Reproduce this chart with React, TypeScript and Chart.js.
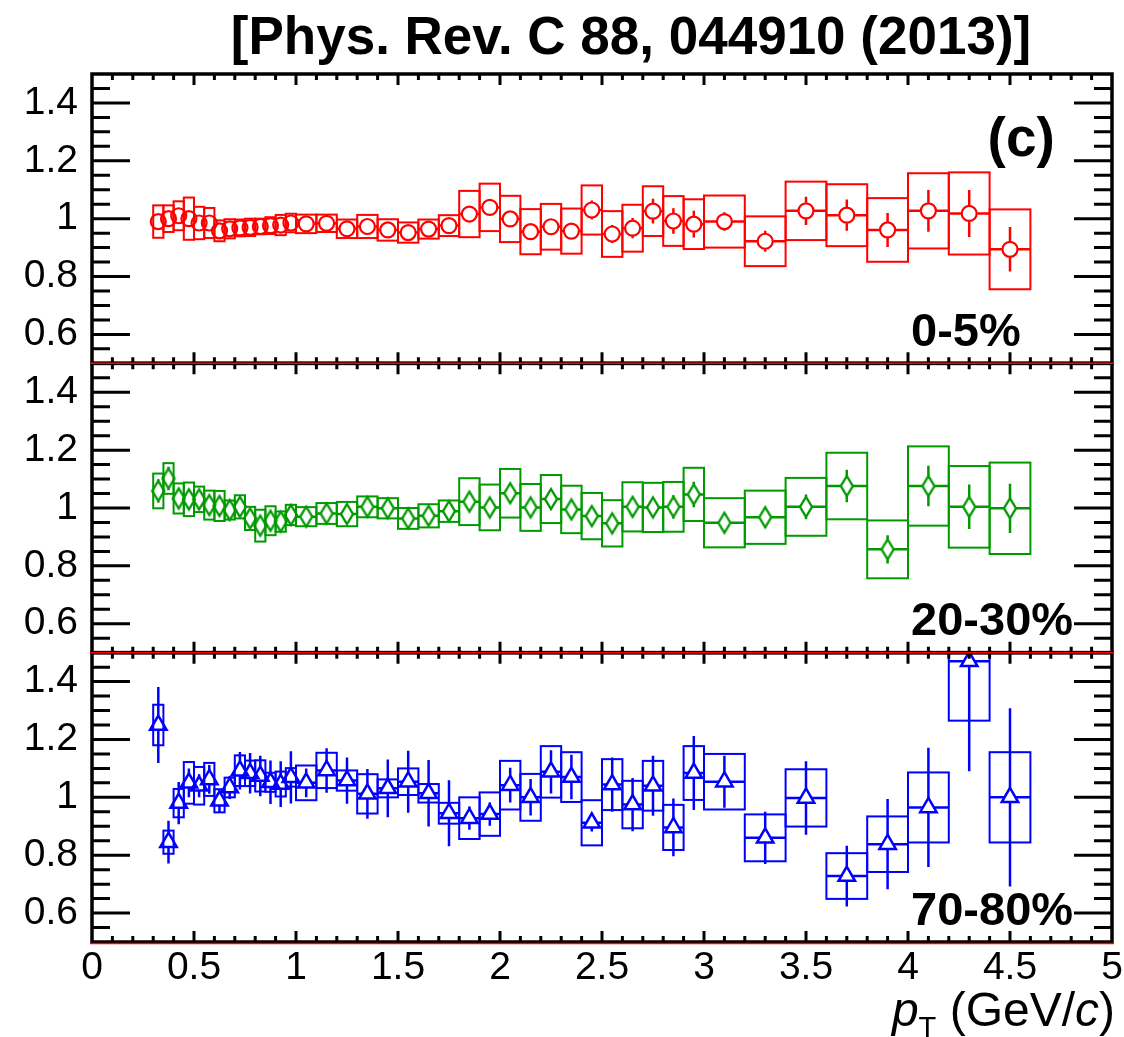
import { useEffect, useRef } from "react";
import { Chart, registerables } from "chart.js";

Chart.register(...registerables);

// pT bin centres and half widths (GeV/c)
const binCenters = [
  0.325, 0.375, 0.425, 0.475, 0.525, 0.575, 0.625, 0.675, 0.725, 0.775, 0.825, 0.875, 0.925, 0.975,
  1.05, 1.15, 1.25, 1.35, 1.45, 1.55, 1.65, 1.75, 1.85, 1.95, 2.05, 2.15, 2.25, 2.35, 2.45, 2.55,
  2.65, 2.75, 2.85, 2.95,
  3.1, 3.3, 3.5, 3.7, 3.9, 4.1, 4.3, 4.5,
];
const binHalfWidths = [
  0.025, 0.025, 0.025, 0.025, 0.025, 0.025, 0.025, 0.025, 0.025, 0.025, 0.025, 0.025, 0.025, 0.025,
  0.05, 0.05, 0.05, 0.05, 0.05, 0.05, 0.05, 0.05, 0.05, 0.05, 0.05, 0.05, 0.05, 0.05, 0.05, 0.05,
  0.05, 0.05, 0.05, 0.05,
  0.1, 0.1, 0.1, 0.1, 0.1, 0.1, 0.1, 0.1,
];

// 0-5% centrality
const ratio0to5 = [
  0.99, 1.0, 1.01, 1.0, 0.985, 0.985, 0.958, 0.965, 0.968, 0.97, 0.973, 0.976, 0.978, 0.985,
  0.982, 0.984, 0.965, 0.973, 0.961, 0.952, 0.964, 0.976, 1.016, 1.039, 0.999, 0.955, 0.972, 0.957,
  1.03, 0.947, 0.967, 1.026, 0.992, 0.981,
  0.99, 0.922, 1.027, 1.012, 0.961, 1.027, 1.018, 0.894,
];
const stat0to5 = [
  0.01, 0.01, 0.01, 0.01, 0.01, 0.01, 0.008, 0.008, 0.008, 0.008, 0.008, 0.008, 0.008, 0.008,
  0.008, 0.008, 0.008, 0.009, 0.009, 0.01, 0.01, 0.011, 0.012, 0.013, 0.014, 0.015, 0.016, 0.017,
  0.033, 0.031, 0.035, 0.043, 0.044, 0.046,
  0.032, 0.036, 0.049, 0.054, 0.059, 0.072, 0.081, 0.077,
];
const sys0to5 = [
  0.056, 0.046, 0.05, 0.073, 0.056, 0.052, 0.036, 0.033, 0.029, 0.03, 0.027, 0.029, 0.035, 0.032,
  0.032, 0.03, 0.032, 0.04, 0.037, 0.035, 0.033, 0.036, 0.08, 0.082, 0.08, 0.078, 0.079, 0.078,
  0.085, 0.079, 0.081, 0.086, 0.086, 0.086,
  0.09, 0.086, 0.101, 0.107, 0.11, 0.13, 0.142, 0.138,
];

// 20-30% centrality
const ratio20to30 = [
  1.059, 1.102, 1.033, 1.03, 1.03, 1.01, 1.007, 0.993, 1.004, 0.964, 0.939, 0.956, 0.953, 0.976,
  0.97, 0.981, 0.979, 1.004, 0.999, 0.964, 0.973, 0.989, 1.022, 1.002, 1.051, 1.002, 1.031, 0.995,
  0.972, 0.947, 1.004, 1.002, 1.004, 1.047,
  0.949, 0.968, 1.004, 1.076, 0.857, 1.076, 1.004, 0.999,
];
const stat20to30 = [
  0.04, 0.04, 0.025, 0.025, 0.025, 0.02, 0.02, 0.02, 0.02, 0.02, 0.02, 0.02, 0.02, 0.02,
  0.015, 0.015, 0.015, 0.015, 0.015, 0.016, 0.017, 0.018, 0.02, 0.022, 0.034, 0.024, 0.034, 0.026,
  0.028, 0.03, 0.035, 0.036, 0.04, 0.044,
  0.03, 0.036, 0.043, 0.056, 0.049, 0.07, 0.077, 0.085,
];
const sys20to30 = [
  0.06, 0.053, 0.052, 0.058, 0.044, 0.05, 0.052, 0.033, 0.04, 0.04, 0.055, 0.05, 0.035, 0.035,
  0.033, 0.036, 0.042, 0.036, 0.035, 0.036, 0.04, 0.037, 0.081, 0.079, 0.084, 0.081, 0.083, 0.082,
  0.08, 0.08, 0.085, 0.085, 0.086, 0.092,
  0.085, 0.092, 0.1, 0.115, 0.1, 0.137, 0.141, 0.158,
];

// 70-80% centrality
const ratio70to80 = [
  1.25, 0.845, 0.98, 1.05, 1.04, 1.062, 0.988, 1.034, 1.092, 1.083, 1.074, 1.052, 1.046, 1.069,
  1.05, 1.093, 1.058, 1.012, 1.031, 1.054, 1.014, 0.945, 0.928, 0.942, 1.042, 1.0, 1.088, 1.07,
  0.912, 1.044, 0.975, 1.04, 0.896, 1.084,
  1.054, 0.86, 0.998, 0.728, 0.838, 0.965, 1.47, 1.0,
];
const stat70to80 = [
  0.131, 0.074, 0.073, 0.05, 0.04, 0.05, 0.04, 0.04, 0.065, 0.07, 0.07, 0.075, 0.079, 0.09,
  0.05, 0.077, 0.08, 0.086, 0.1, 0.107, 0.115, 0.114, 0.04, 0.04, 0.06, 0.063, 0.075, 0.077,
  0.03, 0.094, 0.092, 0.104, 0.1, 0.128,
  0.09, 0.09, 0.127, 0.105, 0.156, 0.206, 0.38, 0.308,
];
const sys70to80 = [
  0.07, 0.04, 0.049, 0.072, 0.065, 0.057, 0.04, 0.034, 0.053, 0.044, 0.054, 0.033, 0.043, 0.032,
  0.06, 0.061, 0.035, 0.068, 0.031, 0.046, 0.032, 0.036, 0.072, 0.075, 0.084, 0.081, 0.089, 0.086,
  0.078, 0.088, 0.082, 0.086, 0.078, 0.093,
  0.096, 0.081, 0.099, 0.079, 0.096, 0.121, 0.205, 0.156,
];

const yTickValues = [0.6, 0.8, 1, 1.2, 1.4];
const xTickValues = [0, 0.5, 1, 1.5, 2, 2.5, 3, 3.5, 4, 4.5, 5];
const centralityLabels = ["0-5%", "20-30%", "70-80%"];
const titleText = "[Phys. Rev. C 88, 044910 (2013)]";
const panelTag = "(c)";

const FONT = "'Liberation Sans', Arial, Helvetica, sans-serif";
const RED = "#ff0000";
const GREEN = "#009a00";
const BLUE = "#0000ff";

type Panel = {
  axisId: string;
  label: string;
  color: string;
  values: number[];
  stat: number[];
  sys: number[];
  gap: { up: number; down: number; side: number };
};

const panels: Panel[] = [
  { axisId: "yTop", label: centralityLabels[0], color: RED, values: ratio0to5, stat: stat0to5, sys: sys0to5, gap: { up: 8, down: 8, side: 8 } },
  { axisId: "yMid", label: centralityLabels[1], color: GREEN, values: ratio20to30, stat: stat20to30, sys: sys20to30, gap: { up: 10, down: 10, side: 6 } },
  { axisId: "yBot", label: centralityLabels[2], color: BLUE, values: ratio70to80, stat: stat70to80, sys: sys70to80, gap: { up: 9.5, down: 5, side: 5.5 } },
];

function makeDiamond(color: string): HTMLCanvasElement {
  const c = document.createElement("canvas");
  c.width = 16;
  c.height = 26;
  const g = c.getContext("2d")!;
  g.strokeStyle = color;
  g.lineWidth = 2.4;
  g.lineJoin = "miter";
  g.beginPath();
  g.moveTo(8, 3);
  g.lineTo(14, 13);
  g.lineTo(8, 23);
  g.lineTo(2, 13);
  g.closePath();
  g.stroke();
  return c;
}

const decorPlugin = {
  id: "panelDecor",
  beforeDatasetsDraw(chart: any) {
    const ctx: CanvasRenderingContext2D = chart.ctx;
    const xs = chart.scales.x;
    panels.forEach((p) => {
      const ys = chart.scales[p.axisId];
      ctx.save();
      ctx.beginPath();
      ctx.rect(xs.left, ys.top, xs.right - xs.left, ys.bottom - ys.top);
      ctx.clip();
      ctx.strokeStyle = p.color;
      binCenters.forEach((xc, k) => {
        const v = p.values[k];
        const x0 = xs.getPixelForValue(xc - binHalfWidths[k]);
        const x1 = xs.getPixelForValue(xc + binHalfWidths[k]);
        const xm = xs.getPixelForValue(xc);
        const yv = ys.getPixelForValue(v);
        const ys0 = ys.getPixelForValue(v + p.sys[k]);
        const ys1 = ys.getPixelForValue(v - p.sys[k]);
        ctx.lineWidth = 2;
        ctx.strokeRect(x0, ys0, x1 - x0, ys1 - ys0);
        const ye0 = ys.getPixelForValue(v + p.stat[k]);
        const ye1 = ys.getPixelForValue(v - p.stat[k]);
        ctx.lineWidth = 2.5;
        ctx.beginPath();
        if (yv - p.gap.up > ye0) {
          ctx.moveTo(xm, yv - p.gap.up);
          ctx.lineTo(xm, ye0);
        }
        if (yv + p.gap.down < ye1) {
          ctx.moveTo(xm, yv + p.gap.down);
          ctx.lineTo(xm, ye1);
        }
        if (xm - p.gap.side > x0) {
          ctx.moveTo(x0, yv);
          ctx.lineTo(xm - p.gap.side, yv);
          ctx.moveTo(xm + p.gap.side, yv);
          ctx.lineTo(x1, yv);
        }
        ctx.stroke();
      });
      ctx.restore();
    });
  },
  afterDraw(chart: any) {
    const ctx: CanvasRenderingContext2D = chart.ctx;
    const xs = chart.scales.x;
    const L = xs.left;
    const R = xs.right;
    ctx.save();
    ctx.strokeStyle = "#000";
    panels.forEach((p) => {
      const ys = chart.scales[p.axisId];
      const T = ys.top;
      const B = ys.bottom;
      ctx.lineWidth = 3;
      ctx.beginPath();
      for (let k = 11; k <= 29; k++) {
        const y = ys.getPixelForValue(k * 0.05);
        const len = k % 4 === 0 ? 38 : 18;
        ctx.moveTo(L, y);
        ctx.lineTo(L + len, y);
        ctx.moveTo(R, y);
        ctx.lineTo(R - len, y);
      }
      for (let k = 1; k <= 49; k++) {
        const x = xs.getPixelForValue(k * 0.1);
        const len = k % 5 === 0 ? 11 : 6;
        ctx.moveTo(x, T);
        ctx.lineTo(x, T + len);
        ctx.moveTo(x, B);
        ctx.lineTo(x, B - len);
      }
      ctx.stroke();
      ctx.lineWidth = 3.5;
      ctx.strokeRect(L, T, R - L, B - T);
    });
    // red separators along the panel edges
    ctx.strokeStyle = RED;
    ctx.lineWidth = 1.5;
    panels.forEach((p, i) => {
      const ys = chart.scales[p.axisId];
      const y = i === panels.length - 1 ? ys.bottom + 1.5 : ys.bottom;
      ctx.beginPath();
      ctx.moveTo(L - 2, y);
      ctx.lineTo(R + 2, y);
      ctx.stroke();
    });

    // centrality labels
    ctx.fillStyle = "#000";
    ctx.textBaseline = "alphabetic";
    ctx.textAlign = "left";
    ctx.font = `bold 47px ${FONT}`;
    panels.forEach((p) => {
      const ys = chart.scales[p.axisId];
      ctx.fillText(p.label, xs.getPixelForValue(4.015), ys.getPixelForValue(0.56));
    });
    ctx.font = `bold 55px ${FONT}`;
    ctx.fillText(panelTag, xs.getPixelForValue(4.39), chart.scales.yTop.getPixelForValue(1.215));

    // title
    ctx.textAlign = "center";
    ctx.font = `bold 53px ${FONT}`;
    ctx.fillText(titleText, 631, 54);

    // x-axis title: p_T (GeV/c)
    ctx.textAlign = "left";
    const big = 48;
    const parts: { t: string; font: string; dy: number }[] = [
      { t: "p", font: `italic ${big}px ${FONT}`, dy: 0 },
      { t: "T", font: `${Math.round(big * 0.6)}px ${FONT}`, dy: 11 },
      { t: " (GeV/", font: `${big}px ${FONT}`, dy: 0 },
      { t: "c", font: `italic ${big}px ${FONT}`, dy: 0 },
      { t: ")", font: `${big}px ${FONT}`, dy: 0 },
    ];
    let total = 0;
    parts.forEach((pt) => {
      ctx.font = pt.font;
      total += ctx.measureText(pt.t).width;
    });
    let x = 1115 - total;
    const base = 1026;
    parts.forEach((pt) => {
      ctx.font = pt.font;
      ctx.fillText(pt.t, x, base + pt.dy);
      x += ctx.measureText(pt.t).width;
    });
    ctx.restore();
  },
};

function yAxis(weight: number) {
  return {
    type: "linear" as const,
    position: "left" as const,
    stack: "panels",
    stackWeight: 1,
    weight,
    min: 0.5,
    max: 1.5,
    grid: { display: false, drawTicks: false },
    border: { display: false },
    afterBuildTicks: (s: any) => {
      s.ticks = yTickValues.map((value) => ({ value }));
    },
    afterFit: (s: any) => {
      s.width = 92;
      s.paddingTop = 0;
      s.paddingBottom = 0;
    },
    ticks: {
      autoSkip: false,
      padding: 14,
      color: "#000",
      font: { family: FONT, size: 39 },
      callback: (v: any) => String(Number(v)),
    },
  };
}

export default function App() {
  const canvasRef = useRef<HTMLCanvasElement | null>(null);

  useEffect(() => {
    const canvas = canvasRef.current;
    if (!canvas) return;
    const diamond = makeDiamond(GREEN);
    const points = (vals: number[]) => binCenters.map((x, k) => ({ x, y: vals[k] }));

    const chart = new Chart(canvas, {
      type: "scatter",
      data: {
        datasets: [
          {
            label: centralityLabels[0],
            data: points(ratio0to5),
            yAxisID: "yTop",
            pointStyle: "circle",
            pointRadius: 7.5,
            borderWidth: 2.2,
            borderColor: RED,
            backgroundColor: "rgba(0,0,0,0)",
          },
          {
            label: centralityLabels[1],
            data: points(ratio20to30),
            yAxisID: "yMid",
            pointStyle: diamond as any,
            pointRadius: 10,
            borderColor: GREEN,
            backgroundColor: "rgba(0,0,0,0)",
          },
          {
            label: centralityLabels[2],
            data: points(ratio70to80),
            yAxisID: "yBot",
            pointStyle: "triangle",
            pointRadius: 9.5,
            borderWidth: 2.5,
            borderColor: BLUE,
            backgroundColor: "rgba(0,0,0,0)",
          },
        ],
      },
      options: {
        animation: false,
        responsive: false,
        maintainAspectRatio: false,
        devicePixelRatio: 1,
        layout: { padding: { top: 74, right: 6, left: 0, bottom: 0 } },
        plugins: { legend: { display: false }, tooltip: { enabled: false } },
        scales: {
          x: {
            type: "linear",
            position: "bottom",
            min: 0,
            max: 5,
            grid: { display: false, drawTicks: false },
            border: { display: false },
            afterBuildTicks: (s: any) => {
              s.ticks = xTickValues.map((value) => ({ value }));
            },
            afterFit: (s: any) => {
              s.height = 95;
              s.paddingLeft = 0;
              s.paddingRight = 0;
            },
            ticks: {
              autoSkip: false,
              maxRotation: 0,
              minRotation: 0,
              padding: 3,
              color: "#000",
              font: { family: FONT, size: 39 },
              callback: (v: any) => String(Number(v)),
            },
          },
          yTop: yAxis(3),
          yMid: yAxis(2),
          yBot: yAxis(1),
        } as any,
      },
      plugins: [decorPlugin],
    });
    return () => chart.destroy();
  }, []);

  return (
    <div style={{ position: "absolute", left: 0, top: 0, width: 1124, height: 1037, background: "#fff" }}>
      <canvas ref={canvasRef} width={1124} height={1037} style={{ display: "block" }} />
    </div>
  );
}
